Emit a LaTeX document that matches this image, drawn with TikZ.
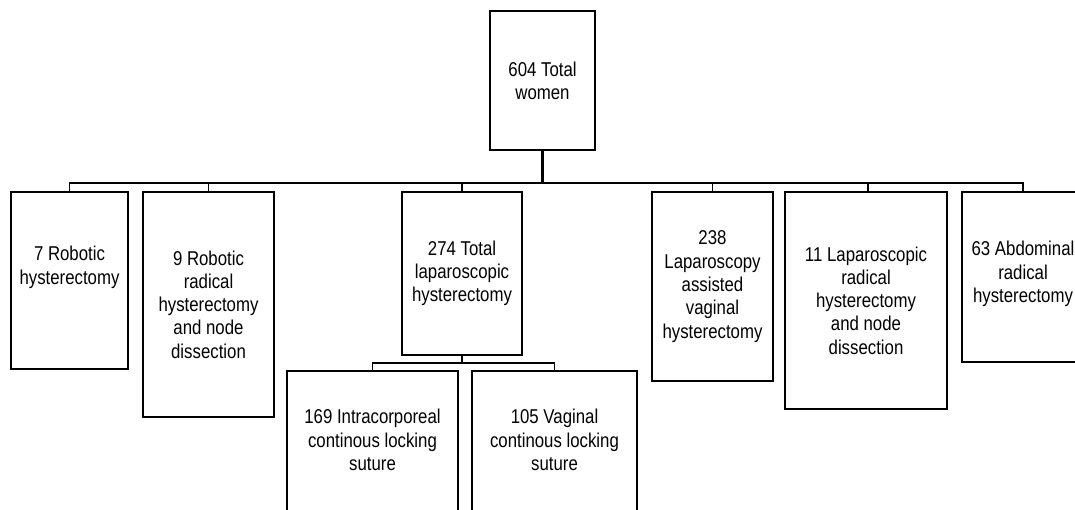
\documentclass[tikz,border=0pt]{standalone}
\usepackage{fontspec}
\setmainfont[FakeStretch=0.84]{Liberation Sans}
\tikzset{
  box/.style={rectangle, draw, line width=1.6pt, align=center, inner sep=2pt,
    font=\fontsize{20}{23.3}\selectfont},
  conn/.style={line width=1.3pt},
  busline/.style={line width=2.4pt},
  trunk/.style={line width=3pt}
}

\begin{document}
\begin{tikzpicture}[x=1pt, y=-1pt]
      \path[use as bounding box, clip] (0,0) rectangle (1075,509);

      \node[box, minimum width=105pt, minimum height=139pt] (total) at (542.5,80.5) {604 Total\\women};

      \node[box, minimum width=117pt, minimum height=177pt] (rh) at (69.5,280.5) {7 Robotic\\hysterectomy\\[7pt]};
      \node[box, minimum width=131pt, minimum height=225pt] (rrh) at (208.5,304.5) {9 Robotic\\radical\\hysterectomy\\and node\\dissection};
      \node[box, minimum width=120pt, minimum height=163pt] (tlh) at (462,273.5) {274 Total\\laparoscopic\\hysterectomy};
      \node[box, minimum width=121pt, minimum height=189pt] (lavh) at (712.5,286.5) {238\\Laparoscopy\\assisted\\vaginal\\hysterectomy};
      \node[box, minimum width=162pt, minimum height=217pt] (lrh) at (866,300.5) {11 Laparoscopic\\radical\\hysterectomy\\and node\\dissection};
      \node[box, minimum width=122pt, minimum height=170pt] (arh) at (1023,277) {63 Abdominal\\radical\\hysterectomy\\[-13pt]};

      \node[box, minimum width=171pt, minimum height=143pt] (icls) at (372.5,442.5) {169 Intracorporeal\\continous locking\\suture\\[-18pt]};
      \node[box, minimum width=165pt, minimum height=143pt] (vcls) at (554.5,442.5) {105 Vaginal\\continous locking\\suture\\[-18pt]};

      \coordinate (bus) at (542.5,183);
      \coordinate (sub) at (462,363);

      \draw[trunk] (total.south) -- (bus);
      \draw[conn] (rh.north) |- (bus);
      \draw[conn] (rrh.north) |- (bus);
      \draw[conn] (tlh.north) |- (bus);
      \draw[conn] (lavh.north) |- (bus);
      \draw[conn] ([xshift=2pt]lrh.north) |- (bus);
      \draw[conn] (arh.north) |- (bus);
      \draw[busline] (rrh.north |- bus) -- (lavh.north |- bus);

      \draw[conn] (tlh.south) -- (sub);
      \draw[conn] (icls.north) |- (sub) -| (vcls.north);
\end{tikzpicture}
\end{document}
